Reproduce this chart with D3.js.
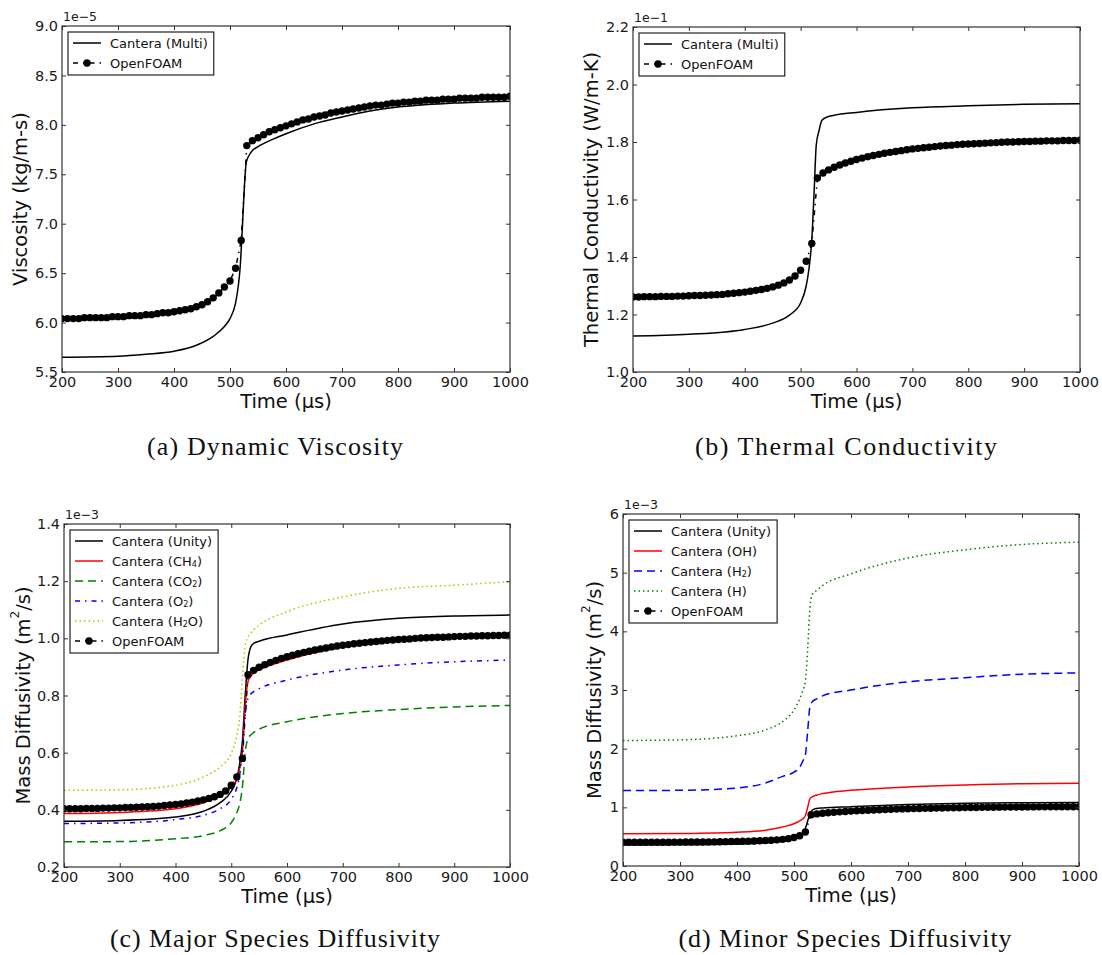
<!DOCTYPE html>
<html>
<head>
<meta charset="utf-8">
<script src="https://cdn.jsdelivr.net/npm/d3@7"></script>
<style>
  body { margin: 0; background: #fff; }
  text { font-family: "DejaVu Sans", sans-serif; }
</style>
</head>
<body>
<svg id="fig" width="1102" height="955"></svg>
<script>
// Time grid of the OpenFOAM output (µs)
const foamTimes = [
  200, 210, 220, 230, 240, 250, 260, 270, 280, 290,
  300, 310, 320, 330, 340, 350, 360, 370, 380, 390,
  400, 410, 420, 430, 440, 450, 460, 470, 480, 490,
  500, 510, 520, 530, 540, 550, 560, 570, 580, 590,
  600, 610, 620, 630, 640, 650, 660, 670, 680, 690,
  700, 710, 720, 730, 740, 750, 760, 770, 780, 790,
  800, 810, 820, 830, 840, 850, 860, 870, 880, 890,
  900, 910, 920, 930, 940, 950, 960, 970, 980, 990,
  1000];
const xTicks = [200, 300, 400, 500, 600, 700, 800, 900, 1000];

// (a) viscosity, x1e-5 kg/m-s
const viscTicks = [5.5, 6.0, 6.5, 7.0, 7.5, 8.0, 8.5, 9.0];
const viscCanteraT = [200, 300, 350, 400, 440, 470, 490, 500, 510, 515, 518, 522, 526, 529, 535, 540, 550, 575, 600, 650, 700, 750, 800, 900, 1000];
const viscCanteraV = [5.65, 5.66, 5.68, 5.71, 5.77, 5.86, 5.96, 6.04, 6.20, 6.38, 6.55, 6.95, 7.40, 7.62, 7.70, 7.74, 7.78, 7.85, 7.91, 8.01, 8.08, 8.14, 8.18, 8.22, 8.24];
const viscFoam = [
  6.04, 6.04, 6.04, 6.04, 6.05, 6.05, 6.05, 6.05, 6.05, 6.06,
  6.06, 6.06, 6.07, 6.07, 6.07, 6.08, 6.08, 6.09, 6.10, 6.10,
  6.11, 6.12, 6.13, 6.14, 6.16, 6.18, 6.21, 6.25, 6.30, 6.36,
  6.42, 6.55, 6.83, 7.79, 7.84, 7.87, 7.90, 7.93, 7.95, 7.97,
  7.99, 8.01, 8.03, 8.05, 8.06, 8.08, 8.09, 8.10, 8.12, 8.13,
  8.14, 8.15, 8.16, 8.17, 8.18, 8.19, 8.20, 8.20, 8.21, 8.22,
  8.22, 8.23, 8.23, 8.24, 8.24, 8.25, 8.25, 8.25, 8.26, 8.26,
  8.26, 8.27, 8.27, 8.27, 8.27, 8.28, 8.28, 8.28, 8.28, 8.28,
  8.29];

// (b) thermal conductivity, x1e-1 W/m-K
const condTicks = [1.0, 1.2, 1.4, 1.6, 1.8, 2.0, 2.2];
const condCanteraT = [200, 300, 400, 450, 480, 500, 510, 515, 520, 524, 528, 533, 538, 545, 560, 600, 700, 800, 900, 1000];
const condCanteraV = [1.125, 1.131, 1.148, 1.170, 1.198, 1.240, 1.300, 1.360, 1.460, 1.620, 1.790, 1.840, 1.875, 1.885, 1.893, 1.903, 1.919, 1.926, 1.931, 1.933];
const condFoam = [
  1.261, 1.261, 1.262, 1.262, 1.262, 1.263, 1.263, 1.263, 1.264, 1.264,
  1.265, 1.266, 1.266, 1.267, 1.268, 1.269, 1.270, 1.272, 1.274, 1.276,
  1.278, 1.281, 1.284, 1.287, 1.291, 1.296, 1.302, 1.310, 1.320, 1.334,
  1.354, 1.385, 1.447, 1.675, 1.692, 1.703, 1.712, 1.720, 1.727, 1.733,
  1.739, 1.744, 1.749, 1.753, 1.757, 1.761, 1.764, 1.767, 1.770, 1.773,
  1.776, 1.778, 1.780, 1.782, 1.784, 1.786, 1.788, 1.789, 1.791, 1.792,
  1.793, 1.794, 1.795, 1.796, 1.797, 1.798, 1.799, 1.800, 1.800, 1.801,
  1.802, 1.802, 1.803, 1.803, 1.804, 1.804, 1.804, 1.805, 1.805, 1.805,
  1.806];

// (c) and (d) mass diffusivity, x1e-3 m^2/s
const majorTicks = [0.2, 0.4, 0.6, 0.8, 1.0, 1.2, 1.4];
const minorTicks = [0, 1, 2, 3, 4, 5, 6];
const diffT = [200, 300, 400, 450, 480, 500, 510, 515, 520, 525, 530, 535, 540, 550, 600, 700, 800, 900, 1000];
const unityV = [0.360, 0.363, 0.375, 0.395, 0.425, 0.465, 0.510, 0.560, 0.640, 0.800, 0.925, 0.970, 0.982, 0.990, 1.012, 1.050, 1.070, 1.078, 1.082];
const ch4V = [0.387, 0.391, 0.404, 0.425, 0.450, 0.478, 0.510, 0.545, 0.600, 0.760, 0.848, 0.868, 0.878, 0.889, 0.924, 0.970, 0.994, 1.008, 1.017];
const co2V = [0.288, 0.289, 0.299, 0.310, 0.327, 0.355, 0.390, 0.420, 0.480, 0.600, 0.650, 0.662, 0.670, 0.682, 0.708, 0.737, 0.751, 0.760, 0.765];
const o2V = [0.352, 0.354, 0.366, 0.381, 0.404, 0.437, 0.478, 0.520, 0.620, 0.737, 0.790, 0.805, 0.813, 0.824, 0.854, 0.889, 0.907, 0.918, 0.924];
const h2oV = [0.468, 0.470, 0.486, 0.515, 0.550, 0.597, 0.660, 0.720, 0.860, 0.975, 1.005, 1.018, 1.029, 1.046, 1.093, 1.145, 1.175, 1.186, 1.198];
const minorT = [200, 300, 400, 450, 480, 500, 510, 515, 520, 524, 528, 532, 540, 550, 600, 700, 800, 900, 1000];
const ohV = [0.549, 0.555, 0.577, 0.610, 0.665, 0.720, 0.770, 0.800, 0.860, 1.000, 1.150, 1.180, 1.210, 1.234, 1.290, 1.347, 1.381, 1.403, 1.409];
const h2V = [1.285, 1.290, 1.330, 1.415, 1.528, 1.600, 1.680, 1.780, 1.900, 2.300, 2.720, 2.800, 2.850, 2.900, 3.000, 3.140, 3.210, 3.270, 3.290];
const hV = [2.139, 2.150, 2.220, 2.320, 2.460, 2.660, 2.850, 2.980, 3.150, 3.700, 4.400, 4.630, 4.700, 4.780, 4.980, 5.250, 5.390, 5.480, 5.520];
const diffFoam = [
  0.404, 0.404, 0.404, 0.404, 0.405, 0.405, 0.405, 0.406, 0.406, 0.407,
  0.407, 0.408, 0.408, 0.409, 0.410, 0.411, 0.412, 0.413, 0.415, 0.417,
  0.419, 0.421, 0.424, 0.427, 0.431, 0.435, 0.440, 0.446, 0.454, 0.466,
  0.486, 0.515, 0.580, 0.873, 0.888, 0.899, 0.908, 0.916, 0.923, 0.930,
  0.936, 0.941, 0.946, 0.951, 0.955, 0.959, 0.963, 0.966, 0.970, 0.973,
  0.976, 0.978, 0.981, 0.983, 0.985, 0.987, 0.989, 0.991, 0.993, 0.994,
  0.996, 0.997, 0.998, 1.000, 1.001, 1.002, 1.003, 1.004, 1.004, 1.005,
  1.006, 1.007, 1.007, 1.008, 1.008, 1.009, 1.009, 1.010, 1.010, 1.011,
  1.011];

// Line styles (matplotlib classic look)
const SOLID = null;
const DASHED = '8,5';
const DASHDOT = '5,5,1.5,5';
const DOTTED = '1.5,3';

const foam = (v) => ({ label: [['OpenFOAM']], t: foamTimes, v, color: '#000', dash: DASHDOT, markers: true });

const panels = [
  {
    box: [62, 26, 510, 372], yDomain: [5.5, 9.0], yTicks: viscTicks, fmt: d3.format('.1f'),
    expo: '1e\u22125', yLabel: [['Viscosity (kg/m-s)']], yLabelX: 20,
    caption: '(a) Dynamic Viscosity', capX: 275, capY: 455, capW: 256,
    series: [
      { label: [['Cantera (Multi)']], t: viscCanteraT, v: viscCanteraV, color: '#000', dash: SOLID },
      foam(viscFoam),
    ],
  },
  {
    box: [633, 27, 1080, 372], yDomain: [1.0, 2.2], yTicks: condTicks, fmt: d3.format('.1f'),
    expo: '1e\u22121', yLabel: [['Thermal Conductivity (W/m-K)']], yLabelX: 591,
    caption: '(b) Thermal Conductivity', capX: 846, capY: 455, capW: 302,
    series: [
      { label: [['Cantera (Multi)']], t: condCanteraT, v: condCanteraV, color: '#000', dash: SOLID },
      foam(condFoam),
    ],
  },
  {
    box: [64, 524, 510, 867], yDomain: [0.2, 1.4], yTicks: majorTicks, fmt: d3.format('.1f'),
    expo: '1e\u22123', yLabel: [['Mass Diffusivity (m'], ['2', 'sup'], ['/s)']], yLabelX: 23,
    caption: '(c) Major Species Diffusivity', capX: 275, capY: 947, capW: 330,
    series: [
      { label: [['Cantera (Unity)']], t: diffT, v: unityV, color: '#000', dash: SOLID },
      { label: [['Cantera (CH'], ['4', 'sub'], [')']], t: diffT, v: ch4V, color: '#ff0000', dash: SOLID },
      { label: [['Cantera (CO'], ['2', 'sub'], [')']], t: diffT, v: co2V, color: '#008000', dash: DASHED },
      { label: [['Cantera (O'], ['2', 'sub'], [')']], t: diffT, v: o2V, color: '#0000ff', dash: DASHDOT },
      { label: [['Cantera (H'], ['2', 'sub'], ['O)']], t: diffT, v: h2oV, color: '#bfbf00', dash: DOTTED },
      foam(diffFoam),
    ],
  },
  {
    box: [623, 514, 1079, 866], yDomain: [0, 6], yTicks: minorTicks, fmt: d3.format('d'),
    expo: '1e\u22123', yLabel: [['Mass Diffusivity (m'], ['2', 'sup'], ['/s)']], yLabelX: 594,
    caption: '(d) Minor Species Diffusivity', capX: 845, capY: 947, capW: 333,
    series: [
      { label: [['Cantera (Unity)']], t: diffT, v: unityV, color: '#000', dash: SOLID },
      { label: [['Cantera (OH)']], t: minorT, v: ohV, color: '#ff0000', dash: SOLID },
      { label: [['Cantera (H'], ['2', 'sub'], [')']], t: minorT, v: h2V, color: '#0000ff', dash: DASHED },
      { label: [['Cantera (H)']], t: minorT, v: hV, color: '#008000', dash: DOTTED },
      foam(diffFoam),
    ],
  },
];

const svg = d3.select('#fig');
svg.append('rect').attr('width', 1102).attr('height', 955).attr('fill', '#fff');
const defs = svg.append('defs');

// Write text made of plain / sub / sup pieces
const richText = (sel, parts, size) => {
  const shift = { sub: size * 0.25, sup: -size * 0.42 };
  let offset = 0;
  parts.forEach(([str, kind]) => {
    const ts = sel.append('tspan').text(str);
    const target = kind ? shift[kind] : 0;
    if (kind) ts.attr('font-size', size * 0.62);
    if (target !== offset) ts.attr('dy', target - offset);
    offset = target;
  });
};

const styleAxis = (g) => {
  g.select('.domain').remove();
  g.attr('font-family', '"DejaVu Sans", sans-serif').attr('font-size', 14.5);
  g.selectAll('.tick line').attr('stroke', '#333').attr('stroke-width', 1);
  g.selectAll('.tick text').attr('fill', '#1a1a1a');
};

panels.forEach((p, idx) => {
  const [x0, y0, x1, y1] = p.box;
  const x = d3.scaleLinear().domain([200, 1000]).range([x0, x1]);
  const y = d3.scaleLinear().domain(p.yDomain).range([y1, y0]);
  const g = svg.append('g');

  defs.append('clipPath').attr('id', `clip${idx}`)
    .append('rect').attr('x', x0).attr('y', y0).attr('width', x1 - x0).attr('height', y1 - y0);

  // Curves
  const plot = g.append('g').attr('clip-path', `url(#clip${idx})`);
  p.series.forEach((s) => {
    const pts = s.t.map((t, i) => [t, s.v[i]]);
    const line = d3.line()
      .x((d) => x(d[0]))
      .y((d) => y(d[1]))
      .curve(s.markers ? d3.curveLinear : d3.curveMonotoneX);
    plot.append('path')
      .attr('d', line(pts))
      .attr('fill', 'none')
      .attr('stroke', s.color)
      .attr('stroke-width', 1.5)
      .attr('stroke-dasharray', s.dash);
    if (s.markers) {
      plot.append('g').selectAll('circle')
        .data(pts)
        .enter().append('circle')
        .attr('cx', (d) => x(d[0]))
        .attr('cy', (d) => y(d[1]))
        .attr('r', 3.7)
        .attr('fill', '#000');
    }
  });

  // Axes with inward ticks on all four sides
  g.append('g').attr('transform', `translate(0,${y1})`)
    .call(d3.axisBottom(x).tickValues(xTicks).tickFormat(d3.format('d'))
      .tickSizeInner(-4).tickSizeOuter(0).tickPadding(5))
    .call(styleAxis);
  g.append('g').attr('transform', `translate(0,${y0})`)
    .call(d3.axisTop(x).tickValues(xTicks).tickSizeInner(-4).tickSizeOuter(0).tickFormat(''))
    .call(styleAxis);
  g.append('g').attr('transform', `translate(${x0},0)`)
    .call(d3.axisLeft(y).tickValues(p.yTicks).tickFormat(p.fmt).tickSizeInner(-4).tickSizeOuter(0).tickPadding(4))
    .call(styleAxis);
  g.append('g').attr('transform', `translate(${x1},0)`)
    .call(d3.axisRight(y).tickValues(p.yTicks).tickSizeInner(-4).tickSizeOuter(0).tickFormat(''))
    .call(styleAxis);

  g.append('rect')
    .attr('x', x0).attr('y', y0).attr('width', x1 - x0).attr('height', y1 - y0)
    .attr('fill', 'none').attr('stroke', '#333').attr('stroke-width', 1.2);

  // Offset text
  g.append('text').attr('x', x0 + 1).attr('y', y0 - 5)
    .attr('font-size', 12.5).attr('fill', '#1a1a1a').text(p.expo);

  // Axis titles
  g.append('text')
    .attr('x', (x0 + x1) / 2).attr('y', y1 + 36)
    .attr('text-anchor', 'middle').attr('font-size', 19.5).attr('fill', '#111')
    .text('Time (\u00b5s)');
  const yl = g.append('text')
    .attr('transform', `translate(${p.yLabelX},${(y0 + y1) / 2}) rotate(-90)`)
    .attr('text-anchor', 'middle').attr('dominant-baseline', 'central')
    .attr('font-size', 19.5).attr('fill', '#111');
  richText(yl, p.yLabel, 19.5);

  // Legend
  const lx = x0 + 6;
  const ly = y0 + 6;
  const rowH = 20;
  const lg = g.append('g');
  const box = lg.append('rect').attr('x', lx).attr('y', ly)
    .attr('fill', '#fff').attr('stroke', '#222').attr('stroke-width', 1.2);
  let maxW = 0;
  p.series.forEach((s, i) => {
    const cy = ly + 11 + i * rowH;
    lg.append('line')
      .attr('x1', lx + 5).attr('x2', lx + 33).attr('y1', cy).attr('y2', cy)
      .attr('stroke', s.color).attr('stroke-width', 1.5).attr('stroke-dasharray', s.dash);
    if (s.markers) {
      lg.append('circle').attr('cx', lx + 19).attr('cy', cy).attr('r', 3.7).attr('fill', '#000');
    }
    const t = lg.append('text').attr('x', lx + 42).attr('y', cy)
      .attr('dominant-baseline', 'central').attr('font-size', 13).attr('fill', '#111');
    richText(t, s.label, 13);
    maxW = Math.max(maxW, t.node().getComputedTextLength());
  });
  box.attr('width', 42 + maxW + 6).attr('height', 11 + (p.series.length - 1) * rowH + 12);

  // Caption
  svg.append('text')
    .attr('x', p.capX).attr('y', p.capY)
    .attr('text-anchor', 'middle')
    .attr('font-size', 26)
    .attr('textLength', p.capW).attr('lengthAdjust', 'spacing')
    .style('font-family', '"Liberation Serif", serif')
    .attr('fill', '#111')
    .text(p.caption);
});
</script>
</body>
</html>
